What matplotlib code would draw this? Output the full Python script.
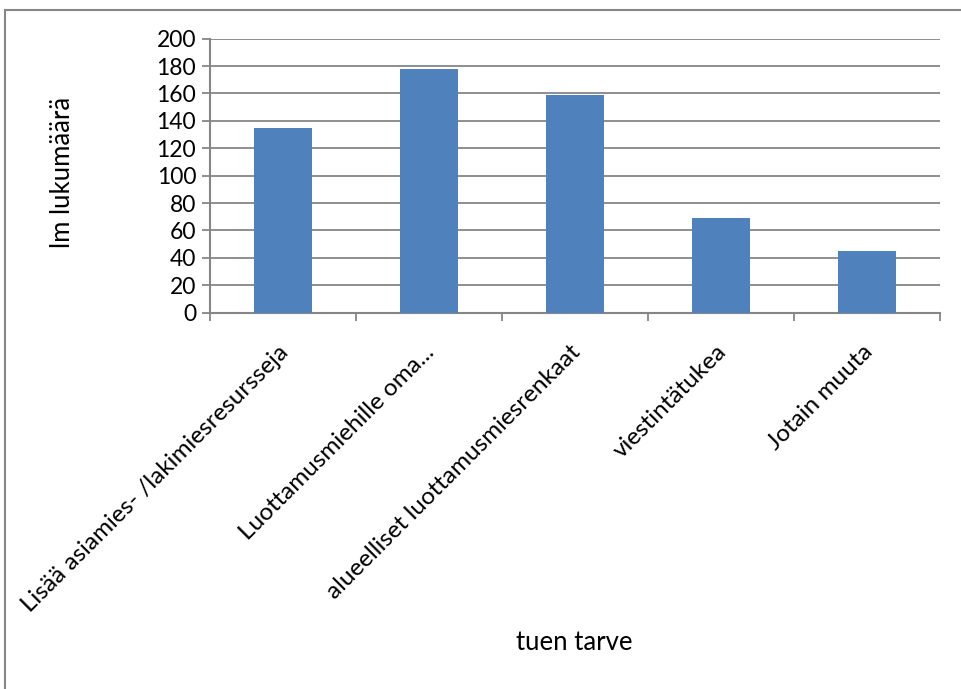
import matplotlib
matplotlib.use("Agg")
import matplotlib.pyplot as plt
from matplotlib.patches import Rectangle
import matplotlib.transforms as mtransforms

categories = [
    "Lisää asiamies- /lakimiesresursseja",
    "Luottamusmiehille oma...",
    "alueelliset luottamusmiesrenkaat",
    "viestintätukea",
    "Jotain muuta",
]
values = [135, 178, 159, 69, 45]
yticks = [0, 20, 40, 60, 80, 100, 120, 140, 160, 180, 200]

plt.rcParams["font.family"] = ["Lato", "DejaVu Sans"]
GRAY = "#868686"
BAR = "#4F81BD"

fig = plt.figure(figsize=(9.61, 6.89), dpi=100)
fig.patch.set_facecolor("white")

# chart-area border
fig.add_artist(Rectangle((5 / 961, -0.05), 1.1, 1.05 - 10 / 689,
                         transform=fig.transFigure, fill=False,
                         edgecolor=GRAY, linewidth=1.5))

ax = fig.add_axes([210 / 961, 1 - 312.7 / 689, 730 / 961, 274 / 689])
x = list(range(len(categories)))
ax.bar(x, values, width=0.4, color=BAR, zorder=3)

ax.set_xlim(-0.5, len(categories) - 0.5)
ax.set_ylim(0, 200)
ax.set_yticks(yticks)
ax.set_yticklabels([str(v) for v in yticks], fontsize=16.5)
ax.yaxis.grid(True, color=GRAY, linewidth=1.3, zorder=0)
ax.set_axisbelow(True)

for s in ["top", "right"]:
    ax.spines[s].set_visible(False)
for s in ["left", "bottom"]:
    ax.spines[s].set_color(GRAY)
    ax.spines[s].set_linewidth(1.5)

ax.tick_params(axis="y", direction="out", length=6, width=1.3, color=GRAY, pad=4)
ax.set_xticks([i - 0.5 for i in range(len(categories) + 1)])
ax.set_xticklabels([])
ax.tick_params(axis="x", direction="out", length=6, width=1.3, color=GRAY)

# rotated category labels
offset = mtransforms.ScaledTranslation(2 / 100, -36 / 100, fig.dpi_scale_trans)
for i, lab in enumerate(categories):
    ax.text(i, 0, lab, rotation=45, rotation_mode="anchor",
            ha="right", va="center", fontsize=17.5,
            transform=ax.get_xaxis_transform() + offset, clip_on=False)

fig.text(62 / 961, 1 - 172 / 689, "lm lukumäärä", rotation=90,
         ha="center", va="center", fontsize=18.5)
fig.text(574 / 961, 1 - 643 / 689, "tuen tarve", ha="center", va="center",
         fontsize=18.5)

fig.savefig("out.png", dpi=100, facecolor="white")
